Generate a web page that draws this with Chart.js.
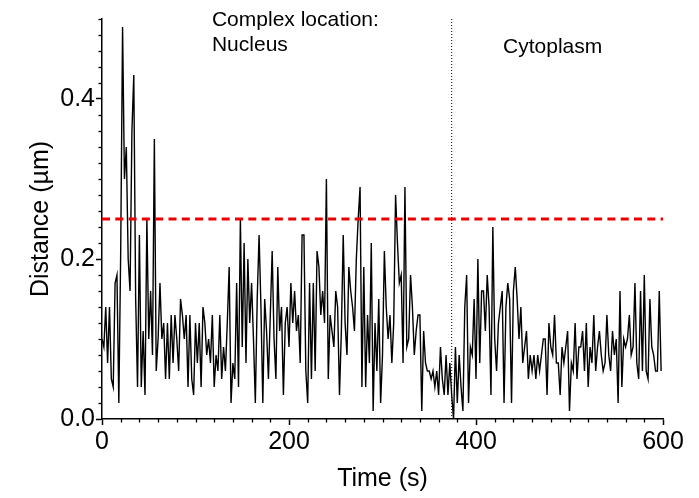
<!DOCTYPE html>
<html><head><meta charset="utf-8">
<script src="https://cdn.jsdelivr.net/npm/chart.js@4.4.1/dist/chart.umd.min.js"></script>
<style>html,body{margin:0;padding:0;background:#fff;}canvas{display:block;}</style>
</head><body>
<canvas id="c" width="699" height="498"></canvas>
<script>
// ---- data ----
const times = [
0,2,4,6,8,10,12,14,16,18,
20,22,24,26,28,30,32,34,36,38,
40,42,44,46,48,50,52,54,56,58,
60,62,64,66,68,70,72,74,76,78,
80,82,84,86,88,90,92,94,96,98,
100,102,104,106,108,110,112,114,116,118,
120,122,124,126,128,130,132,134,136,138,
140,142,144,146,148,150,152,154,156,158,
160,162,164,166,168,170,172,174,176,178,
180,182,184,186,188,190,192,194,196,198,
200,202,204,206,208,210,212,214,216,218,
220,222,224,226,228,230,232,234,236,238,
240,242,244,246,248,250,252,254,256,258,
260,262,264,266,268,270,272,274,276,278,
280,282,284,286,288,290,292,294,296,298,
300,302,304,306,308,310,312,314,316,318,
320,322,324,326,328,330,332,334,336,338,
340,342,344,346,348,350,352,354,356,358,
360,362,364,366,368,370,372,374,376,378,
380,382,384,386,388,390,392,394,396,398,
400,402,404,406,408,410,412,414,416,418,
420,422,424,426,428,430,432,434,436,438,
440,442,444,446,448,450,452,454,456,458,
460,462,464,466,468,470,472,474,476,478,
480,482,484,486,488,490,492,494,496,498,
500,502,504,506,508,510,512,514,516,518,
520,522,524,526,528,530,532,534,536,538,
540,542,544,546,548,550,552,554,556,558,
560,562,564,566,568,570,572,574,576,578,
580,582,584,586,588,590,592,594,596,598];
const distances = [
0.10,0.09,0.14,0.07,0.14,0.05,0.04,0.17,0.18,0.02,
0.21,0.49,0.30,0.34,0.20,0.16,0.36,0.43,0.15,0.04,
0.23,0.04,0.11,0.03,0.25,0.10,0.16,0.08,0.35,0.06,
0.10,0.17,0.10,0.12,0.05,0.12,0.05,0.13,0.07,0.13,
0.10,0.06,0.15,0.13,0.10,0.13,0.04,0.13,0.05,0.03,
0.12,0.07,0.12,0.04,0.14,0.12,0.08,0.10,0.07,0.13,
0.04,0.08,0.06,0.13,0.05,0.09,0.06,0.12,0.19,0.02,
0.07,0.05,0.17,0.04,0.25,0.09,0.22,0.07,0.20,0.12,
0.17,0.10,0.02,0.15,0.23,0.14,0.02,0.15,0.11,0.05,
0.13,0.21,0.10,0.05,0.19,0.11,0.14,0.03,0.12,0.14,
0.09,0.17,0.12,0.16,0.11,0.13,0.07,0.23,0.23,0.06,
0.02,0.17,0.05,0.17,0.06,0.21,0.19,0.13,0.16,0.12,
0.30,0.05,0.13,0.11,0.09,0.16,0.14,0.03,0.11,0.23,
0.12,0.08,0.19,0.16,0.14,0.11,0.20,0.25,0.29,0.04,
0.19,0.04,0.13,0.07,0.22,0.01,0.12,0.06,0.15,0.02,
0.08,0.21,0.14,0.10,0.13,0.07,0.12,0.28,0.22,0.17,
0.18,0.07,0.29,0.09,0.10,0.18,0.14,0.08,0.11,0.13,
0.13,0.01,0.11,0.07,0.06,0.06,0.05,0.06,0.04,0.06,
0.03,0.09,0.05,0.03,0.08,0.03,0.07,0.03,0.00,0.09,
0.02,0.08,0.04,0.01,0.14,0.18,0.02,0.09,0.08,0.15,
0.05,0.20,0.07,0.16,0.16,0.11,0.18,0.14,0.03,0.24,
0.10,0.06,0.12,0.14,0.16,0.02,0.14,0.17,0.15,0.02,
0.16,0.19,0.15,0.10,0.14,0.07,0.09,0.11,0.05,0.08,
0.06,0.08,0.05,0.08,0.06,0.08,0.10,0.10,0.03,0.12,
0.09,0.08,0.13,0.07,0.07,0.03,0.09,0.07,0.09,0.11,
0.01,0.07,0.06,0.12,0.05,0.09,0.09,0.11,0.06,0.12,
0.04,0.09,0.07,0.13,0.06,0.09,0.11,0.08,0.06,0.07,
0.13,0.08,0.06,0.11,0.08,0.10,0.02,0.16,0.04,0.10,
0.09,0.10,0.13,0.08,0.09,0.17,0.07,0.05,0.16,0.06,
0.18,0.06,0.05,0.15,0.09,0.08,0.06,0.06,0.16,0.06];
const thresholdDistance = [0.25];
const transitionTime = [374];
const xTickLabels = [0, 200, 400, 600];
const yTickLabels = [0.0, 0.2, 0.4];
const regionLabels = [["Complex location:", "Nucleus"], ["Cytoplasm"]];

// ---- chart ----
const FONT = '"Liberation Sans", Arial, Helvetica, sans-serif';
const X_MIN = 0, X_MAX = 600, Y_MIN = 0, Y_MAX = 0.5;
const near = (a, b) => Math.abs(a - b) < 1e-6;
const isXLabel = v => xTickLabels.some(l => near(l, v));
const isYLabel = v => yTickLabels.some(l => near(l, v));

const series = times.map((t, i) => ({x: t, y: distances[i]}));
const thrLine = [{x: X_MIN, y: thresholdDistance[0]}, {x: X_MAX, y: thresholdDistance[0]}];
const transLine = [{x: transitionTime[0], y: Y_MIN}, {x: transitionTime[0], y: Y_MAX}];

const decor = {
  id: 'decor',
  afterDraw(chart) {
    const ctx = chart.ctx, xs = chart.scales.x, ys = chart.scales.y;
    ctx.save();
    ctx.strokeStyle = '#000';
    ctx.lineWidth = 1.3;
    ys.ticks.forEach(t => {
      if (isYLabel(t.value)) return;
      const py = Math.round(ys.getPixelForValue(t.value)) + 0.5;
      ctx.beginPath(); ctx.moveTo(xs.left, py); ctx.lineTo(xs.left - 3.5, py); ctx.stroke();
    });
    xs.ticks.forEach(t => {
      if (isXLabel(t.value)) return;
      const px = Math.round(xs.getPixelForValue(t.value)) + 0.5;
      ctx.beginPath(); ctx.moveTo(px, ys.bottom); ctx.lineTo(px, ys.bottom + 3.5); ctx.stroke();
    });
    ctx.fillStyle = '#000';
    ctx.font = '21px ' + FONT;
    ctx.textAlign = 'left';
    ctx.textBaseline = 'alphabetic';
    const nx = xs.getPixelForValue(117.6);
    ctx.fillText(regionLabels[0][0], nx, ys.getPixelForValue(0.491));
    ctx.fillText(regionLabels[0][1], nx, ys.getPixelForValue(0.4595));
    ctx.fillText(regionLabels[1][0], xs.getPixelForValue(428.9), ys.getPixelForValue(0.4575));
    ctx.restore();
  }
};

new Chart(document.getElementById('c'), {
  type: 'line',
  data: {
    datasets: [
      {data: thrLine, borderColor: 'rgb(235,0,0)', borderWidth: 3, borderDash: [8, 5.3], pointRadius: 0, fill: false},
      {data: series, borderColor: '#000', borderWidth: 1.4, pointRadius: 0, tension: 0, fill: false},
      {data: transLine, borderColor: '#000', borderWidth: 1, borderDash: [1, 2], pointRadius: 0, fill: false}
    ]
  },
  options: {
    responsive: false,
    devicePixelRatio: 1,
    animation: false,
    layout: {padding: {left: 0, right: 36, top: 19, bottom: 0}},
    plugins: {legend: {display: false}, tooltip: {enabled: false}},
    scales: {
      x: {
        type: 'linear', min: X_MIN, max: X_MAX,
        afterFit(s) { s.height = 79; },
        border: {color: '#000', width: 1.5},
        grid: {drawOnChartArea: false, tickLength: 6, tickWidth: 1.5,
               tickColor: c => isXLabel(c.tick.value) ? '#000' : 'rgba(0,0,0,0)'},
        ticks: {stepSize: 20, autoSkip: false, maxRotation: 0, padding: 2, color: '#000',
                font: {family: FONT, size: 25},
                callback: v => isXLabel(v) ? String(Math.round(v)) : ''},
        title: {display: true, text: 'Time (s)', color: '#000', font: {family: FONT, size: 25}, padding: {top: 0, bottom: 4}}
      },
      y: {
        type: 'linear', min: Y_MIN, max: Y_MAX,
        afterFit(s) { s.width = 102; },
        border: {color: '#000', width: 1.5},
        grid: {drawOnChartArea: false, tickLength: 6, tickWidth: 1.5,
               tickColor: c => isYLabel(c.tick.value) ? '#000' : 'rgba(0,0,0,0)'},
        ticks: {stepSize: 0.02, autoSkip: false, padding: 1, color: '#000',
                font: {family: FONT, size: 25},
                callback: v => isYLabel(v) ? v.toFixed(1) : ''},
        title: {display: true, text: 'Distance (µm)', color: '#000', font: {family: FONT, size: 25}, padding: {top: 26, bottom: 0}}
      }
    }
  },
  plugins: [decor]
});
</script>
</body></html>
